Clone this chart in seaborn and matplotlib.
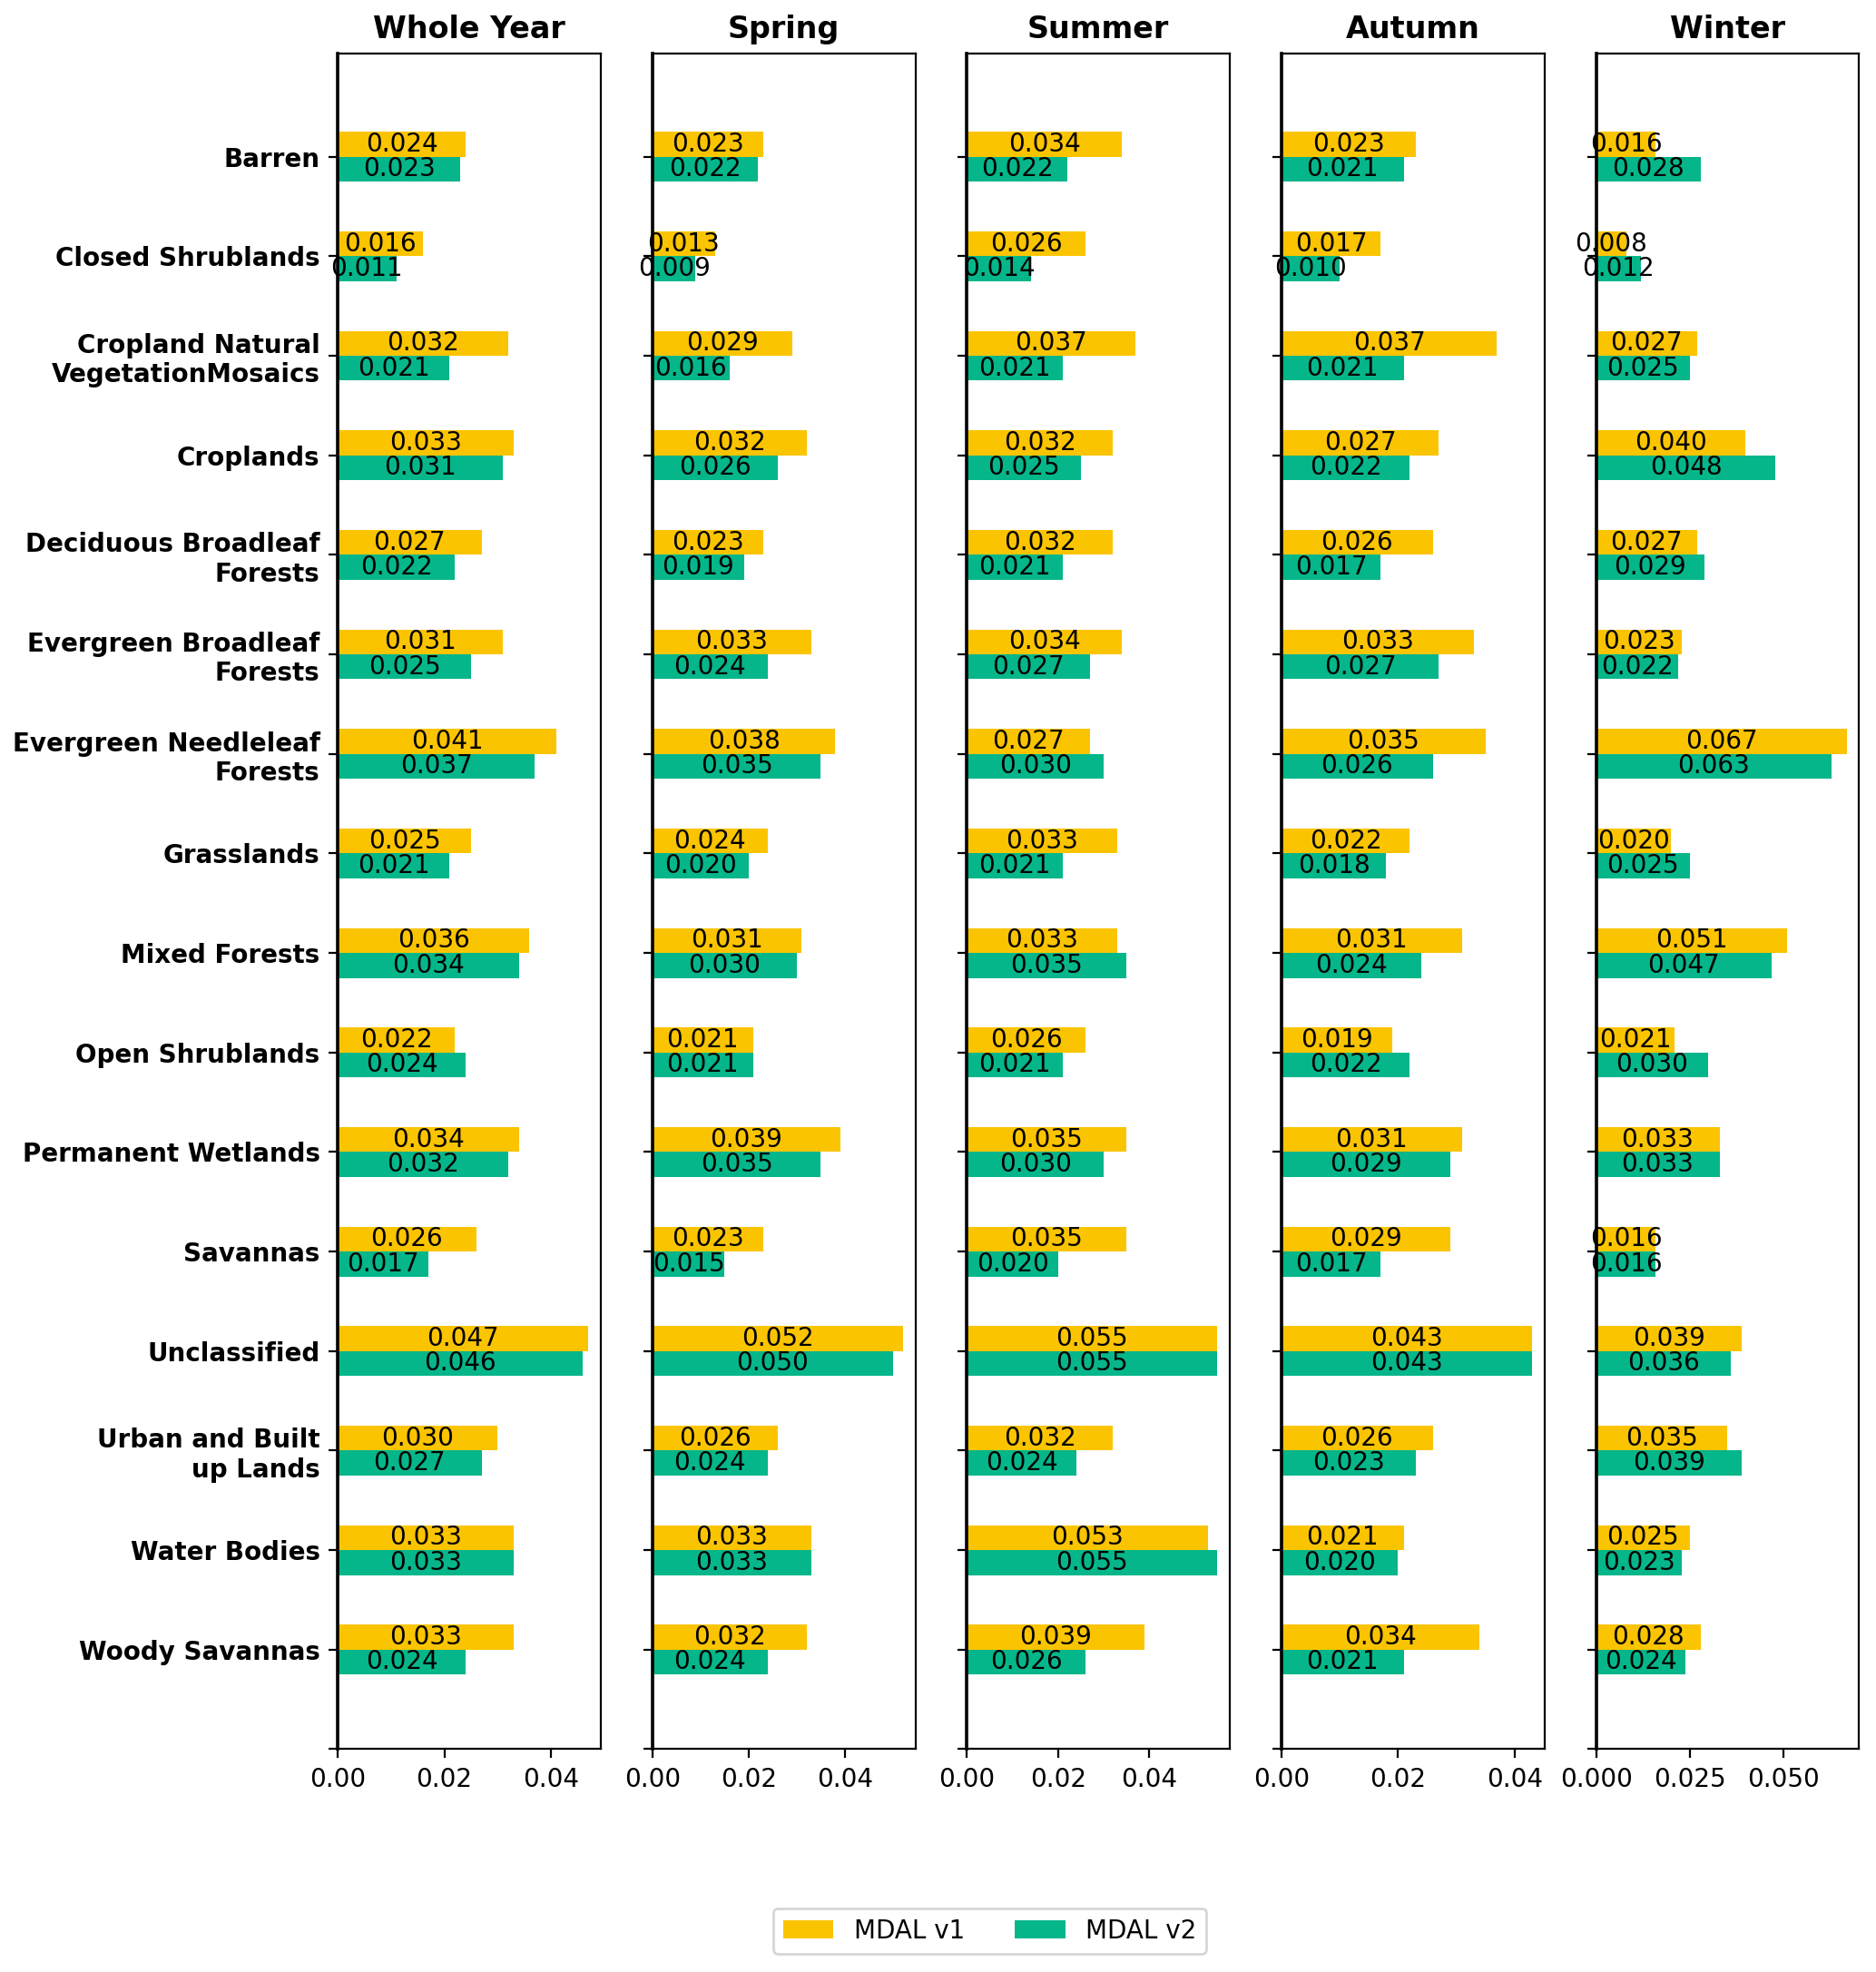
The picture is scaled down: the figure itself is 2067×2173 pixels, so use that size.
import numpy as np
import pandas as pd
import matplotlib
matplotlib.use("Agg")
import matplotlib.pyplot as plt
import seaborn as sns

cubiertas = ['Barren', 'Closed Shrublands', 'Cropland Natural\nVegetationMosaics', 'Croplands',
             'Deciduous Broadleaf\nForests', 'Evergreen Broadleaf\nForests',
             'Evergreen Needleleaf\nForests', 'Grasslands', 'Mixed Forests', 'Open Shrublands',
             'Permanent Wetlands', 'Savannas', 'Unclassified', 'Urban and Built\nup Lands',
             'Water Bodies', 'Woody Savannas']

temporadas = ['Whole Year', 'Spring', 'Summer', 'Autumn', 'Winter']
versiones = ['MDAL v1', 'MDAL v2']

# valores MDAL v1 por temporada
v1_anual = [0.024, 0.016, 0.032, 0.033, 0.027, 0.031, 0.041, 0.025, 0.036, 0.022, 0.034, 0.026, 0.047, 0.030, 0.033, 0.033]
v1_primavera = [0.023, 0.013, 0.029, 0.032, 0.023, 0.033, 0.038, 0.024, 0.031, 0.021, 0.039, 0.023, 0.052, 0.026, 0.033, 0.032]
v1_verano = [0.034, 0.026, 0.037, 0.032, 0.032, 0.034, 0.027, 0.033, 0.033, 0.026, 0.035, 0.035, 0.055, 0.032, 0.053, 0.039]
v1_otono = [0.023, 0.017, 0.037, 0.027, 0.026, 0.033, 0.035, 0.022, 0.031, 0.019, 0.031, 0.029, 0.043, 0.026, 0.021, 0.034]
v1_invierno = [0.016, 0.008, 0.027, 0.040, 0.027, 0.023, 0.067, 0.020, 0.051, 0.021, 0.033, 0.016, 0.039, 0.035, 0.025, 0.028]

# valores MDAL v2 por temporada
v2_anual = [0.023, 0.011, 0.021, 0.031, 0.022, 0.025, 0.037, 0.021, 0.034, 0.024, 0.032, 0.017, 0.046, 0.027, 0.033, 0.024]
v2_primavera = [0.022, 0.009, 0.016, 0.026, 0.019, 0.024, 0.035, 0.020, 0.030, 0.021, 0.035, 0.015, 0.050, 0.024, 0.033, 0.024]
v2_verano = [0.022, 0.014, 0.021, 0.025, 0.021, 0.027, 0.030, 0.021, 0.035, 0.021, 0.030, 0.020, 0.055, 0.024, 0.055, 0.026]
v2_otono = [0.021, 0.010, 0.021, 0.022, 0.017, 0.027, 0.026, 0.018, 0.024, 0.022, 0.029, 0.017, 0.043, 0.023, 0.020, 0.021]
v2_invierno = [0.028, 0.012, 0.025, 0.048, 0.029, 0.022, 0.063, 0.025, 0.047, 0.030, 0.033, 0.016, 0.036, 0.039, 0.023, 0.024]

datos_v1 = [v1_anual, v1_primavera, v1_verano, v1_otono, v1_invierno]
datos_v2 = [v2_anual, v2_primavera, v2_verano, v2_otono, v2_invierno]

colores = ['#FBC400', '#05B68A']

fig, axes = plt.subplots(1, 5, figsize=(10.335, 10.865), dpi=200, sharey=True)
fig.subplots_adjust(left=0.180, right=0.991, top=0.973, bottom=0.113, wspace=0.196)

for ax, temporada, a, b in zip(axes, temporadas, datos_v1, datos_v2):
    tabla = pd.DataFrame({
        'cubierta': cubiertas * 2,
        'valor': a + b,
        'version': [versiones[0]] * len(a) + [versiones[1]] * len(b),
    })
    sns.barplot(data=tabla, x='valor', y='cubierta', hue='version', orient='h',
                order=cubiertas, hue_order=versiones, palette=colores,
                width=0.5, saturation=1, errorbar=None, ax=ax)
    for cont in ax.containers:
        ax.bar_label(cont, fmt='%.3f', label_type='center', fontsize=10)
    ax.set_title(temporada, fontweight='bold', fontsize=12)
    ax.set_xlabel('')
    ax.set_ylabel('')
    ax.legend_.remove()
    for lado in ['top', 'right', 'bottom', 'left']:
        ax.spines[lado].set_visible(True)
        ax.spines[lado].set_color('black')
    ax.spines['left'].set_linewidth(1.3)

handles, labels = axes[0].get_legend_handles_labels()

axes[0].set_yticks(range(len(cubiertas) + 1))
axes[0].set_yticklabels(cubiertas + [''], fontweight='bold')
axes[0].set_ylim(len(cubiertas), -1.04)

axes[-1].xaxis.set_major_locator(matplotlib.ticker.MultipleLocator(0.025))

fig.legend(handles, labels, loc='lower center', ncol=2, fontsize=10,
           bbox_to_anchor=(0.5276, 0.0092), borderaxespad=0)

plt.savefig('out.png', dpi=200)
